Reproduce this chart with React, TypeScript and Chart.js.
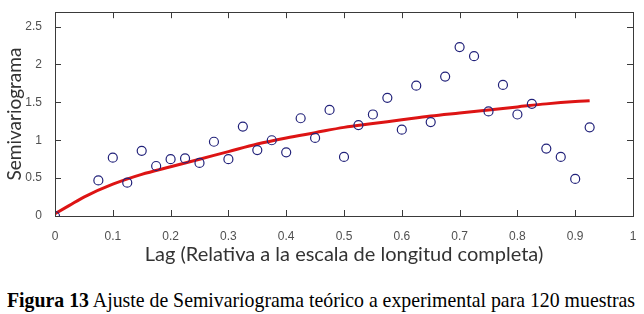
import React, { useEffect, useRef } from "react";
import { Chart, registerables } from "chart.js";

Chart.register(...registerables);

const lagExp = [0, 0.075, 0.1, 0.125, 0.15, 0.175, 0.2, 0.225, 0.25, 0.275, 0.3, 0.325, 0.35, 0.375, 0.4, 0.425, 0.45, 0.475, 0.5, 0.525, 0.55, 0.575, 0.6, 0.625, 0.65, 0.675, 0.7, 0.725, 0.75, 0.775, 0.8, 0.825, 0.85, 0.875, 0.9, 0.925];
const gammaExp = [0, 0.47, 0.77, 0.44, 0.86, 0.66, 0.75, 0.76, 0.70, 0.98, 0.75, 1.18, 0.87, 1.0, 0.84, 1.29, 1.03, 1.40, 0.78, 1.20, 1.34, 1.56, 1.14, 1.72, 1.24, 1.84, 2.23, 2.11, 1.38, 1.73, 1.34, 1.48, 0.89, 0.78, 0.49, 1.17];

const lagFit = [0, 0.025, 0.05, 0.1, 0.15, 0.2, 0.25, 0.3, 0.35, 0.4, 0.45, 0.5, 0.55, 0.6, 0.65, 0.7, 0.75, 0.8, 0.85, 0.9, 0.925];
const gammaFit = [0.03, 0.14, 0.25, 0.42, 0.55, 0.65, 0.75, 0.85, 0.95, 1.03, 1.10, 1.17, 1.22, 1.27, 1.32, 1.36, 1.40, 1.44, 1.48, 1.51, 1.52];

const xTitle = "Lag (Relativa a la escala de longitud completa)";
const yTitle = "Semivariograma";
const captionBold = "Figura 13";
const captionRest = " Ajuste de Semivariograma teórico a experimental para 120 muestras";

const fmt = (v: any) => String(Math.round(Number(v) * 10) / 10);

const boxTicks = {
  id: "boxTicks",
  afterDatasetsDraw(chart: any) {
    const { ctx, chartArea, scales } = chart;
    const { left, right, top, bottom } = chartArea;
    const len = 6;
    ctx.save();
    ctx.strokeStyle = "#3a3a3a";
    ctx.lineWidth = 1;
    ctx.beginPath();
    for (const t of scales.x.ticks) {
      const px = Math.round(scales.x.getPixelForValue(t.value)) + 0.5;
      ctx.moveTo(px, bottom);
      ctx.lineTo(px, bottom - len);
      ctx.moveTo(px, top);
      ctx.lineTo(px, top + len);
    }
    for (const t of scales.y.ticks) {
      const py = Math.round(scales.y.getPixelForValue(t.value)) + 0.5;
      ctx.moveTo(left, py);
      ctx.lineTo(left + len, py);
      ctx.moveTo(right, py);
      ctx.lineTo(right - len, py);
    }
    ctx.stroke();
    ctx.strokeRect(Math.round(left) + 0.5, Math.round(top) + 0.5, Math.round(right - left), Math.round(bottom - top));
    ctx.restore();
  },
};

export default function App() {
  const ref = useRef<HTMLCanvasElement>(null);
  useEffect(() => {
    if (!ref.current) return;
    const chart = new Chart(ref.current, {
      type: "scatter",
      data: {
        datasets: [
          {
            label: "Experimental",
            data: lagExp.map((x, i) => ({ x, y: gammaExp[i] })),
            pointStyle: "circle",
            pointRadius: 4.5,
            pointBorderWidth: 1.2,
            pointBorderColor: "#22227a",
            pointBackgroundColor: "rgba(0,0,0,0)",
            showLine: false,
          },
          {
            label: "Teórico",
            data: lagFit.map((x, i) => ({ x, y: gammaFit[i] })),
            showLine: true,
            borderColor: "#dd1414",
            borderWidth: 3,
            pointRadius: 0,
            cubicInterpolationMode: "monotone",
          } as any,
        ],
      },
      options: {
        animation: false,
        responsive: false,
        maintainAspectRatio: false,
        layout: { padding: { top: 10, right: 11, left: 0, bottom: 0 } },
        plugins: { legend: { display: false }, tooltip: { enabled: false } },
        scales: {
          x: {
            type: "linear",
            min: 0,
            max: 1,
            grid: { display: false },
            border: { display: false },
            ticks: {
              stepSize: 0.1,
              padding: 5,
              color: "#505050",
              font: { family: "'Liberation Sans', Arial, sans-serif", size: 12 },
              maxRotation: 0,
              callback: fmt,
            },
            title: {
              display: true,
              text: xTitle,
              color: "#333333",
              font: { family: "Lato, 'Open Sans', sans-serif", size: 20 },
              padding: { top: 0, bottom: 3 },
            },
            afterFit: (s: any) => {
              s.height = 54;
            },
          },
          y: {
            type: "linear",
            min: 0,
            max: 2.69,
            grid: { display: false },
            border: { display: false },
            ticks: {
              stepSize: 0.5,
              includeBounds: false,
              padding: 5,
              color: "#505050",
              font: { family: "'Liberation Sans', Arial, sans-serif", size: 12 },
              callback: fmt,
            },
            title: {
              display: true,
              text: yTitle,
              color: "#333333",
              font: { family: "Lato, 'Open Sans', sans-serif", size: 19 },
              padding: { top: 3, bottom: 4 },
            },
            afterFit: (s: any) => {
              s.width = 55;
            },
          },
        },
      },
      plugins: [boxTicks],
    });
    return () => chart.destroy();
  }, []);

  return (
    <div style={{ position: "fixed", left: 0, top: 0, width: 644, height: 314, background: "#fff", overflow: "hidden" }}>
      <canvas ref={ref} width={644} height={270} style={{ position: "absolute", left: 0, top: 0, width: 644, height: 270 }} />
      <div
        style={{
          position: "absolute",
          left: 7,
          top: 288,
          whiteSpace: "nowrap",
          fontFamily: "'Liberation Serif', 'Times New Roman', serif",
          fontSize: 21,
          lineHeight: "24px",
          color: "#000",
          transform: "scaleX(0.943)",
          transformOrigin: "0 0",
        }}
      >
        <b>{captionBold}</b>
        {captionRest}
      </div>
    </div>
  );
}
